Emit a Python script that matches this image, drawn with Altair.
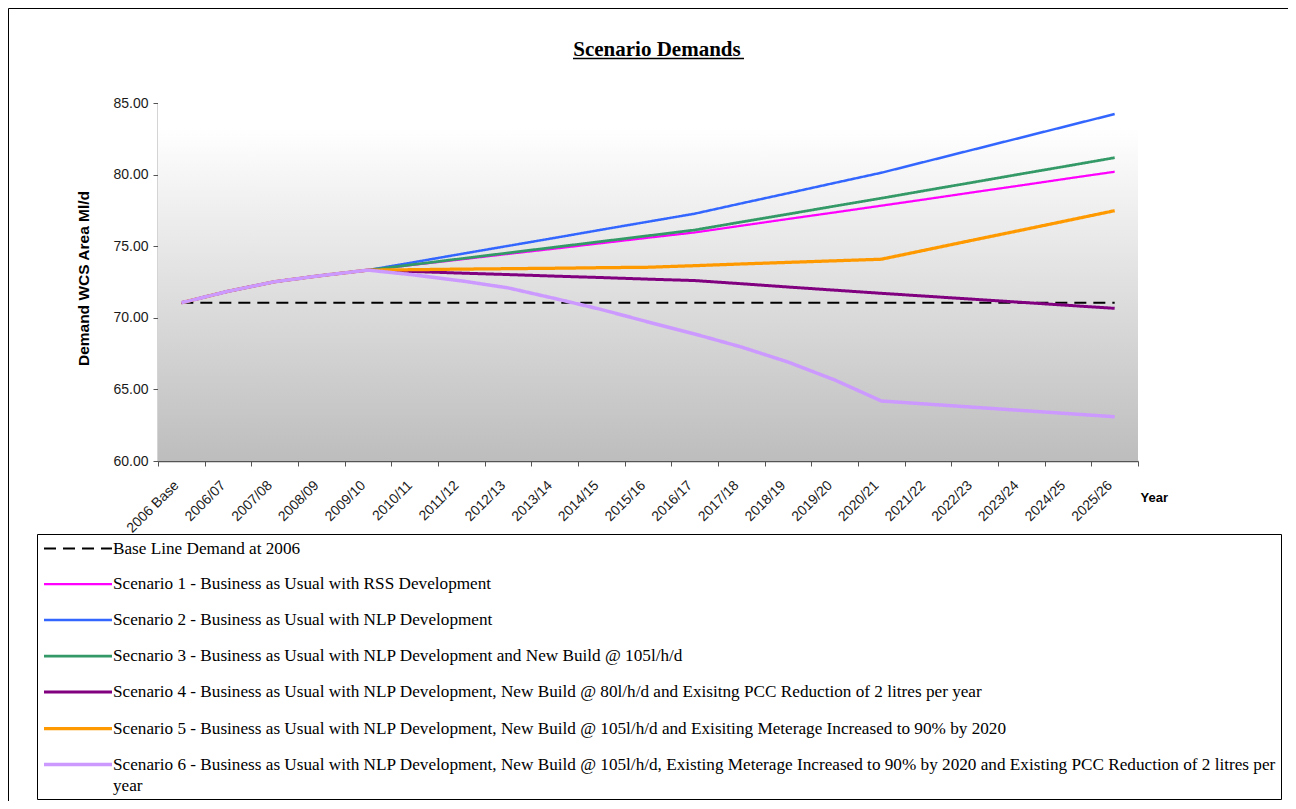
import altair as alt
import pandas as pd

years = ["2006 Base", "2006/07", "2007/08", "2008/09", "2009/10", "2010/11", "2011/12",
         "2012/13", "2013/14", "2014/15", "2015/16", "2016/17", "2017/18", "2018/19",
         "2019/20", "2020/21", "2021/22", "2022/23", "2023/24", "2024/25", "2025/26"]

names = [
    "Base Line Demand at 2006",
    "Scenario 1 - Business as Usual with RSS Development",
    "Scenario 2 - Business as Usual with NLP Development",
    "Secnario 3 - Business as Usual with NLP Development and New Build @ 105l/h/d",
    "Scenario 4 - Business as Usual with NLP Development, New Build @ 80l/h/d and Exisitng PCC Reduction of 2 litres per year",
    "Scenario 5 - Business as Usual with NLP Development, New Build @ 105l/h/d and Exisiting Meterage Increased to 90% by 2020",
    "Scenario 6 - Business as Usual with NLP Development, New Build @ 105l/h/d, Existing Meterage Increased to 90% by 2020 and Existing PCC Reduction of 2 litres per year",
]
colors = ["#000000", "#ff00ff", "#3366ff", "#339966", "#800080", "#ff9900", "#cc99ff"]
dashes = [[12, 7], [1, 0], [1, 0], [1, 0], [1, 0], [1, 0], [1, 0]]
widths = [2, 3.5, 3.5, 3.5, 3.5, 3.5, 3.5]

baseline = [71.05, 71.05, 71.05, 71.05, 71.05, 71.05, 71.05, 71.05, 71.05, 71.05, 71.05,
            71.05, 71.05, 71.05, 71.05, 71.05, 71.05, 71.05, 71.05, 71.05, 71.05]
s1 = [71.05, 71.85, 72.52, 72.95, 73.33, 73.71, 74.08, 74.46, 74.83, 75.21, 75.59,
      75.96, 76.43, 76.90, 77.36, 77.83, 78.30, 78.78, 79.25, 79.73, 80.20]
s2 = [71.05, 71.85, 72.52, 72.95, 73.33, 73.89, 74.46, 75.02, 75.58, 76.15, 76.71,
      77.27, 77.99, 78.70, 79.42, 80.13, 80.95, 81.77, 82.59, 83.41, 84.23]
s3 = [71.05, 71.85, 72.52, 72.95, 73.33, 73.73, 74.13, 74.53, 74.93, 75.33, 75.73,
      76.13, 76.69, 77.24, 77.80, 78.35, 78.92, 79.48, 80.05, 80.61, 81.18]
s4 = [71.05, 71.85, 72.52, 72.95, 73.33, 73.23, 73.12, 73.02, 72.91, 72.81, 72.70,
      72.60, 72.38, 72.15, 71.93, 71.71, 71.50, 71.29, 71.08, 70.87, 70.66]
s5 = [71.05, 71.85, 72.52, 72.95, 73.33, 73.36, 73.40, 73.43, 73.46, 73.50, 73.53,
      73.64, 73.76, 73.87, 73.98, 74.09, 74.77, 75.45, 76.12, 76.80, 77.48]
s6 = [71.05, 71.85, 72.52, 72.95, 73.33, 72.99, 72.58, 72.09, 71.35, 70.58, 69.71,
      68.87, 67.96, 66.91, 65.66, 64.19, 63.97, 63.75, 63.53, 63.31, 63.09]

series = [baseline, s1, s2, s3, s4, s5, s6]
rows = []
for name, vals in zip(names, series):
    for yr, v in zip(years, vals):
        rows.append({"year": yr, "series": name, "demand": v})
df = pd.DataFrame(rows)

W, H = 980, 358
one = pd.DataFrame({"k": [0]})

legend_common = dict(
    title=None, orient="none", legendX=-121, legendY=431, direction="vertical",
    labelExpr=("datum.label == '" + names[6] + "' ? ['Scenario 6 - Business as Usual with NLP Development, New Build @ 105l/h/d, Existing Meterage Increased to 90% by 2020 and Existing PCC Reduction of 2 litres per', 'year'] : datum.label"),
)

background = alt.Chart(one).mark_rect(
    color=alt.LinearGradient(
        gradient="linear", x1=0, y1=0, x2=0, y2=1,
        stops=[alt.GradientStop(offset=0, color="#ffffff"),
               alt.GradientStop(offset=0.07, color="#ffffff"),
               alt.GradientStop(offset=1, color="#bdbdbd")])
).encode(x=alt.value(0), x2=alt.value(W), y=alt.value(0), y2=alt.value(H))

frame = alt.Chart(one).mark_rect(filled=False, stroke="black", strokeWidth=1).encode(
    x=alt.value(-149.5), x2=alt.value(1300), y=alt.value(-94.5), y2=alt.value(900))

underline = alt.Chart(one).mark_rule(color="black", strokeWidth=1.5).encode(
    x=alt.value(415), x2=alt.value(586), y=alt.value(-44.5))

lines = alt.Chart(df).mark_line(clip=False).encode(
    x=alt.X("year:N", sort=years, bandPosition=0.5,
            scale=alt.Scale(type="band", paddingInner=0, paddingOuter=0),
            axis=alt.Axis(title="Year", tickBand="extent", labelAngle=-45, labelAlign="right",
                          labelBaseline="top", labelPadding=12, labelOffset=-10, tickSize=5,
                          labelFontSize=14, labelFont="Liberation Sans", labelColor="#1a1a1a",
                          domainColor="#555555", domainWidth=1.5, tickColor="#555555",
                          titleX=W + 2, titleY=36, titleAlign="left", titleBaseline="middle",
                          titleFontSize=13, titleFontWeight="bold", titleFont="Liberation Sans",
                          titleColor="black", grid=False)),
    y=alt.Y("demand:Q", scale=alt.Scale(domain=[60, 85], nice=False, zero=False),
            axis=alt.Axis(title="Demand WCS Area Ml/d", values=[60, 65, 70, 75, 80, 85],
                          format=".2f", tickSize=5, labelPadding=5, labelFontSize=14,
                          labelFont="Liberation Sans", labelColor="#1a1a1a",
                          domainColor="#555555", domainWidth=1.5, tickColor="#555555",
                          titleFont="Liberation Sans", titleFontSize=15.5, titleFontWeight="bold",
                          titleColor="black", titleX=-75, titleY=H / 2 - 4, titleAngle=-90,
                          titleAlign="center", titleBaseline="middle", grid=False)),
    color=alt.Color("series:N", sort=names,
                    scale=alt.Scale(domain=names, range=colors),
                    legend=alt.Legend(**legend_common)),
    strokeDash=alt.StrokeDash("series:N", sort=names,
                              scale=alt.Scale(domain=names, range=dashes),
                              legend=alt.Legend(**legend_common)),
    strokeWidth=alt.StrokeWidth("series:N", sort=names,
                                scale=alt.Scale(domain=names, range=widths), legend=None),
)

chart = alt.layer(frame, background, lines, underline).properties(
    width=W, height=H,
    autosize=alt.AutoSizeParams(type="none"),
    padding={"left": 150, "top": 95, "right": 150, "bottom": 340},
    title=alt.TitleParams("Scenario Demands", font="Liberation Serif", fontSize=21,
                          fontWeight="bold", color="black", anchor="middle",
                          baseline="alphabetic", offset=-69, dx=9),
).configure(
    style={"guide-label": {"lineHeight": 21}},
).configure_view(stroke=None).configure_legend(
    labelFont="Liberation Serif", labelFontSize=17.2, labelColor="black", labelLimit=3000,
    symbolType="M-1,0H7", symbolSize=289, symbolStrokeWidth=3, labelOffset=50,
    rowPadding=17, padding=5, strokeColor="black", fillColor="white",
)

chart.save("out.html", embed_options={"renderer": "svg", "actions": False})
